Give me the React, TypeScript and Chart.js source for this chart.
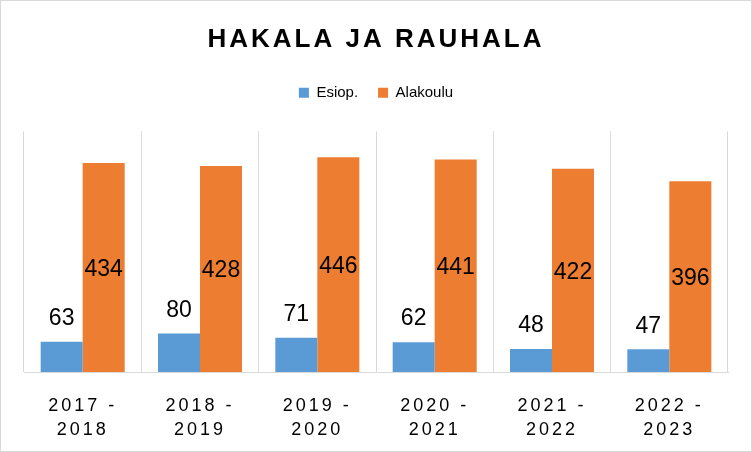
import React, { useEffect, useRef } from 'react';
import { Chart, registerables } from 'chart.js';

Chart.register(...registerables);

const TITLE = 'HAKALA JA RAUHALA';
const categories: string[][] = [
  ['2017 -', '2018'],
  ['2018 -', '2019'],
  ['2019 -', '2020'],
  ['2020 -', '2021'],
  ['2021 -', '2022'],
  ['2022 -', '2023'],
];
const seriesNames = ['Esiop.', 'Alakoulu'];
const esiop = [63, 80, 71, 62, 48, 47];
const alakoulu = [434, 428, 446, 441, 422, 396];
const seriesColors = ['#5B9BD5', '#ED7D31'];
const Y_MIN = 0;
const Y_MAX = 500;

const FONT = '"Liberation Sans", Arial, sans-serif';
const GRID = '#d9d9d9';

const spacingPlugin = {
  id: 'letterSpacingWrap',
  beforeDraw(chart: any) {
    const ctx = chart.ctx;
    const tb = chart.titleBlock;
    if (tb && !tb.__wrapped) {
      const orig = tb.draw.bind(tb);
      tb.draw = (...args: any[]) => {
        ctx.save();
        (ctx as any).letterSpacing = '3px';
        orig(...args);
        ctx.restore();
      };
      tb.__wrapped = true;
    }
    const sx = chart.scales.x;
    if (sx && !sx.__wrapped) {
      const origL = sx.drawLabels.bind(sx);
      sx.drawLabels = (...args: any[]) => {
        ctx.save();
        (ctx as any).letterSpacing = '3px';
        origL(...args);
        ctx.restore();
      };
      sx.__wrapped = true;
    }
    ctx.save();
    ctx.fillStyle = '#ffffff';
    ctx.fillRect(0, 0, chart.width, chart.height);
    ctx.restore();
  },
  afterDraw(chart: any) {
    const ctx = chart.ctx;
    ctx.save();
    ctx.strokeStyle = GRID;
    ctx.lineWidth = 1;
    ctx.strokeRect(0.5, 0.5, chart.width - 1, chart.height - 1);
    ctx.restore();
  },
};

const valueLabelPlugin = {
  id: 'valueLabels',
  afterDatasetsDraw(chart: any) {
    const ctx = chart.ctx;
    ctx.save();
    ctx.font = `23px ${FONT}`;
    ctx.fillStyle = '#000000';
    ctx.textAlign = 'center';
    ctx.textBaseline = 'middle';
    chart.data.datasets.forEach((ds: any, di: number) => {
      const meta = chart.getDatasetMeta(di);
      meta.data.forEach((el: any, i: number) => {
        const v = ds.data[i];
        const p = el.getProps(['x', 'y', 'base'], true);
        if (di === 0) {
          ctx.fillText(String(v), p.x, p.y - 23);
        } else {
          ctx.fillText(String(v), p.x, (p.y + p.base) / 2 + 2);
        }
      });
    });
    ctx.restore();
  },
};

export default function App() {
  const ref = useRef<HTMLCanvasElement | null>(null);

  useEffect(() => {
    if (!ref.current) return;
    const chart = new Chart(ref.current, {
      type: 'bar',
      data: {
        labels: categories,
        datasets: [
          {
            label: seriesNames[0],
            data: esiop,
            backgroundColor: seriesColors[0],
            xAxisID: 'x',
            categoryPercentage: 0.716,
            barPercentage: 1,
          },
          {
            label: seriesNames[1],
            data: alakoulu,
            backgroundColor: seriesColors[1],
            xAxisID: 'x',
            categoryPercentage: 0.716,
            barPercentage: 1,
          },
        ],
      },
      options: {
        animation: false,
        responsive: false,
        maintainAspectRatio: false,
        devicePixelRatio: 1,
        layout: { padding: { left: 24, right: 24, top: 0, bottom: 12 } },
        plugins: {
          title: {
            display: true,
            text: TITLE,
            color: '#000000',
            font: { family: FONT, size: 26, weight: 'bold' },
            padding: { top: 24, bottom: 10 },
          },
          legend: {
            display: true,
            position: 'top',
            labels: {
              color: '#000000',
              font: { family: FONT, size: 15 },
              boxWidth: 10,
              boxHeight: 10,
              padding: 20,
            },
          },
          tooltip: { enabled: false },
        },
        scales: {
          x: {
            type: 'category',
            position: 'bottom',
            grid: { display: true, color: GRID, drawTicks: false, offset: true },
            border: { display: true, color: GRID },
            ticks: {
              color: '#000000',
              font: { family: FONT, size: 18, lineHeight: 24 / 18 },
              padding: 22,
              maxRotation: 0,
              autoSkip: false,
            },
            afterFit: (s: any) => {
              s.height = 68;
            },
          },
          spacer: {
            type: 'category',
            position: 'top',
            display: true,
            grid: { display: false },
            border: { display: false },
            ticks: { display: false },
            afterFit: (s: any) => {
              s.height = 21;
            },
          },
          y: {
            display: false,
            min: Y_MIN,
            max: Y_MAX,
            grid: { display: false },
          },
        },
      },
      plugins: [spacingPlugin, valueLabelPlugin],
    });
    return () => chart.destroy();
  }, []);

  return (
    <div style={{ position: 'fixed', left: 0, top: 0, width: 752, height: 452, background: '#fff' }}>
      <canvas ref={ref} width={752} height={452} style={{ display: 'block', width: 752, height: 452 }} />
    </div>
  );
}
